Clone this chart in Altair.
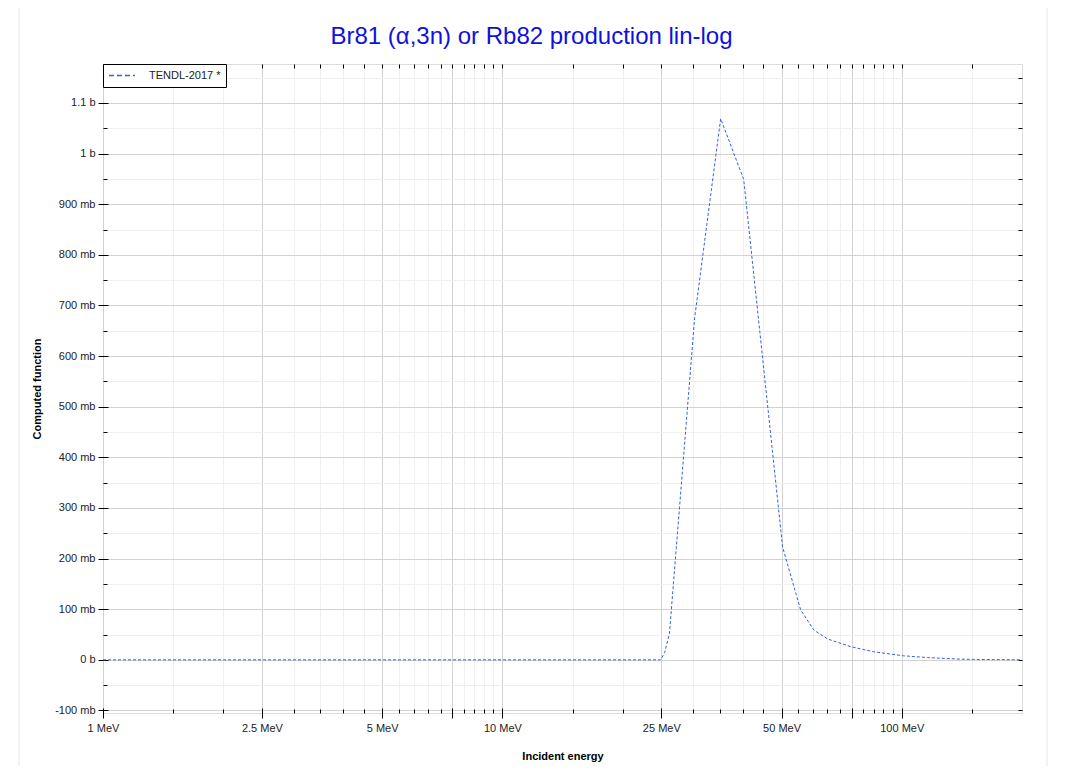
import altair as alt
import pandas as pd

# ---- data ----
energy_mev = [1, 2, 5, 10, 15, 20, 24.9, 25.5, 26.2, 30.3, 35.2, 40.2, 50.3, 55.8,
              60.2, 65.3, 74.5, 85, 101, 116, 140, 170, 200]
xs_barn = [0, 0, 0, 0, 0, 0, 0, 0.015, 0.052, 0.676, 1.069, 0.949, 0.223, 0.099,
           0.059, 0.041, 0.026, 0.016, 0.008, 0.0045, 0.0014, 0.0004, 0.0001]
series_name = "TENDL-2017 *"

x_major = [1, 2.5, 5, 7.5, 10, 25, 50, 75, 100]
x_minor = [1.5, 2, 3, 3.5, 4, 4.5, 5.5, 6, 6.5, 7, 8, 8.5, 9, 9.5,
           15, 20, 30, 35, 40, 45, 55, 60, 65, 70, 80, 85, 90, 95, 150]
y_major = [-0.1, 0, 0.1, 0.2, 0.3, 0.4, 0.5, 0.6, 0.7, 0.8, 0.9, 1.0, 1.1]
y_minor = [-0.05, 0.05, 0.15, 0.25, 0.35, 0.45, 0.55, 0.65, 0.75, 0.85, 0.95, 1.05, 1.15]

df = pd.DataFrame({"E": energy_mev, "xs": xs_barn, "series": series_name})

FONT = "Liberation Sans"
BLUE = "#3560e0"
W, H = 919, 649

xscale = alt.Scale(type="log", domain=[1, 200], nice=False)
yscale = alt.Scale(domain=[-0.105, 1.177], nice=False, zero=False)

ylabel = ("datum.value == 0 ? '0 b' : (abs(datum.value) >= 0.999 ? "
          "format(datum.value, '~g') + ' b' : round(datum.value * 1000) + ' mb')")
xlabel = ("(datum.value == 7.5 || datum.value == 75) ? '' : datum.value + ' MeV'")

base = alt.Chart(df)

# faint outer panel border
border = alt.Chart(pd.DataFrame({"k": [0]})).mark_rect(
    fillOpacity=0, stroke="#e6e6e6", strokeWidth=1
).encode(x=alt.value(-84), x2=alt.value(944), y=alt.value(-59), y2=alt.value(800))

# minor grid + inward minor ticks (bottom / left)
layer_minor = base.mark_point(opacity=0).encode(
    x=alt.X("E:Q", scale=xscale, axis=alt.Axis(
        orient="bottom", values=x_minor, labels=False, title=None, domain=False,
        ticks=True, tickSize=4, offset=-4, tickColor="black", tickWidth=1,
        grid=True, gridColor="#efefef", gridWidth=1)),
    y=alt.Y("xs:Q", scale=yscale, axis=alt.Axis(
        orient="left", values=y_minor, labels=False, title=None, domain=False,
        ticks=True, tickSize=4, offset=-4, tickColor="black", tickWidth=1,
        grid=True, gridColor="#efefef", gridWidth=1)),
)

# major grid + crossing ticks + labels (bottom / left)
layer_major = base.mark_point(opacity=0).encode(
    x=alt.X("E:Q", scale=xscale, axis=alt.Axis(
        orient="bottom", values=x_major, labelExpr=xlabel, title="Incident energy",
        domain=False, ticks=True, tickSize=10, offset=-5, tickColor="black",
        tickWidth=1, labelPadding=4, labelFont=FONT, labelFontSize=11,
        labelColor="#222222", titleFont=FONT, titleFontSize=11, titleFontWeight="bold",
        titleColor="black", titlePadding=17, grid=True, gridColor="#d2d2d2",
        gridWidth=1, labelFlush=False)),
    y=alt.Y("xs:Q", scale=yscale, axis=alt.Axis(
        orient="left", values=y_major, labelExpr=ylabel, title="Computed function",
        domain=False, ticks=True, tickSize=10, offset=-5, tickColor="black",
        tickWidth=1, labelPadding=3, labelFont=FONT, labelFontSize=11,
        labelColor="#222222", titleFont=FONT, titleFontSize=11, titleFontWeight="bold",
        titleColor="black", titlePadding=12, grid=True, gridColor="#d2d2d2",
        gridWidth=1)),
)

# data line + mirrored ticks (top / right)
layer_line = base.mark_line(strokeWidth=1, strokeDash=[3, 2]).encode(
    x=alt.X("E:Q", scale=xscale, axis=alt.Axis(
        orient="top", values=x_major + x_minor, labels=False, title=None,
        domain=False, ticks=True, tickSize=4, offset=-4, tickColor="black",
        grid=False)),
    y=alt.Y("xs:Q", scale=yscale, axis=alt.Axis(
        orient="right", values=y_major + y_minor, labels=False, title=None,
        domain=False, ticks=True, tickSize=4, offset=-4, tickColor="black",
        grid=False)),
    color=alt.Color("series:N", scale=alt.Scale(domain=[series_name], range=[BLUE]),
                    legend=alt.Legend(title=None, orient="none", legendX=0, legendY=0,
                                      strokeColor="black", fillColor="white",
                                      padding=5, symbolType="stroke",
                                      symbolStrokeWidth=1.5, symbolSize=676,
                                      clipHeight=13,
                                      symbolDash=[5, 3], labelFont=FONT,
                                      labelFontSize=11, labelColor="#222222",
                                      labelOffset=13)),
)

chart = alt.layer(border, layer_minor, layer_major, layer_line).resolve_axis(
    x="independent", y="independent"
).properties(
    width=W, height=H,
    title=alt.TitleParams("Br81 (α,3n) or Rb82 production lin-log", font=FONT,
                          fontSize=24, fontWeight="normal", color="#1010dd",
                          anchor="middle", frame="group", dx=-31,
                          baseline="alphabetic", offset=-63),
    autosize=alt.AutoSizeParams(type="none"),
    padding={"left": 95, "top": 56, "right": 41, "bottom": 53},
).configure_view(stroke="black", strokeWidth=1.5).configure(background="white")

chart.save("out.html", embed_options={"renderer": "svg", "actions": False})
